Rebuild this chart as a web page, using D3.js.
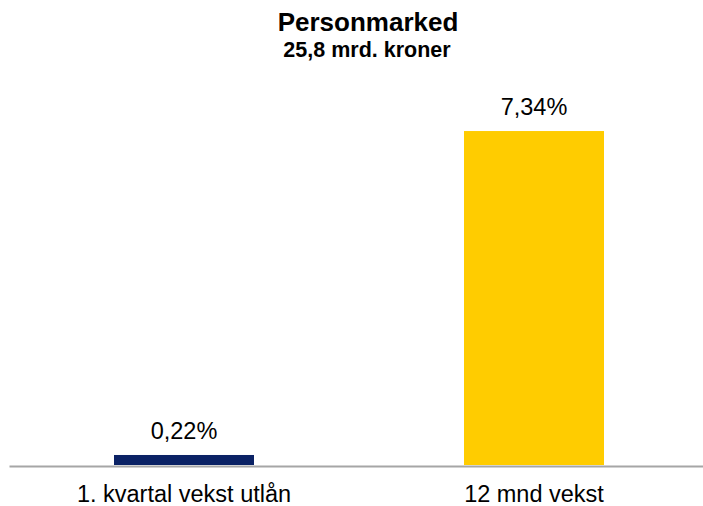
<!DOCTYPE html>
<html>
<head>
<meta charset="utf-8">
<script src="https://cdn.jsdelivr.net/npm/d3@7"></script>
<style>
  body { margin: 0; background: #fff; overflow: hidden; }
  svg text { font-family: "Liberation Sans", Arial, sans-serif; fill: #000; }
</style>
</head>
<body>
<div id="chart"></div>
<script>
// data
const categories = ['1. kvartal vekst utlån', '12 mnd vekst'];
const values = [0.22, 7.34];
const labels = ['0,22%', '7,34%'];
const colors = ['#0b2265', '#ffcc00'];
const title = 'Personmarked';
const subtitle = '25,8 mrd. kroner';

const width = 703, height = 506;

const svg = d3.select('#chart')
    .append('svg')
    .attr('width', width)
    .attr('height', height)
    .style('display', 'block');

// scales
const x = d3.scaleBand()
    .domain(categories)
    .range([9, 709])
    .paddingInner(0.6)
    .paddingOuter(0.3);

const y = d3.scaleLinear()
    .domain([0, 8])
    .range([465, 101]);

// bars
svg.selectAll('.bar')
    .data(values)
    .enter()
    .append('rect')
    .attr('class', 'bar')
    .attr('x', (d, i) => x(categories[i]))
    .attr('y', d => y(d))
    .attr('width', x.bandwidth())
    .attr('height', d => y(0) - y(d))
    .attr('fill', (d, i) => colors[i]);

// value labels
svg.selectAll('.val')
    .data(values)
    .enter()
    .append('text')
    .attr('class', 'val')
    .attr('x', (d, i) => x(categories[i]) + x.bandwidth() / 2)
    .attr('y', d => y(d) - 16)
    .attr('text-anchor', 'middle')
    .style('font-size', '23.5px')
    .text((d, i) => labels[i]);

// x axis
const axis = svg.append('g')
    .attr('transform', 'translate(0,466)')
    .call(d3.axisBottom(x).tickSize(0).tickSizeOuter(0));

axis.select('.domain')
    .attr('stroke', '#a6a6a6')
    .attr('stroke-width', 2);

axis.selectAll('text')
    .attr('dy', null)
    .attr('y', 36)
    .style('font-size', '23.5px')
    .style('font-family', '"Liberation Sans", Arial, sans-serif')
    .attr('fill', '#000');

// title
svg.append('text')
    .attr('x', 368)
    .attr('y', 31)
    .attr('text-anchor', 'middle')
    .style('font-size', '26px')
    .style('font-weight', 'bold')
    .text(title);

svg.append('text')
    .attr('x', 367)
    .attr('y', 57)
    .attr('text-anchor', 'middle')
    .style('font-size', '21.5px')
    .style('font-weight', 'bold')
    .text(subtitle);
</script>
</body>
</html>
